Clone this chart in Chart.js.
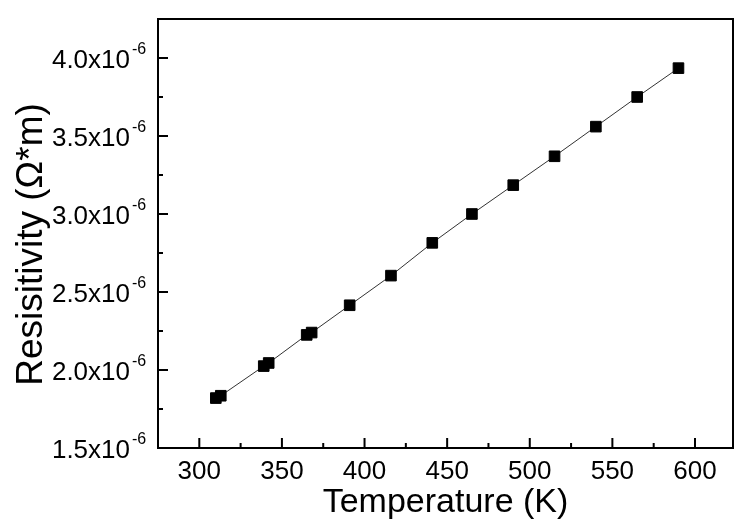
<!DOCTYPE html>
<html>
<head>
<meta charset="utf-8">
<script src="https://cdn.jsdelivr.net/npm/chart.js@4.4.1/dist/chart.umd.min.js"></script>
<style>
  html, body { margin: 0; padding: 0; background: #ffffff; }
  #wrap { width: 737px; height: 520px; }
</style>
</head>
<body>
<div id="wrap"><canvas id="c" width="737" height="520"></canvas></div>
<script>
// ---- data ----
const temperatures = [310, 313, 339, 342, 365, 368, 391, 416, 441, 465, 490, 515, 540, 565, 590];
const resistivity = [1.820e-6, 1.835e-6, 2.025e-6, 2.045e-6, 2.225e-6, 2.240e-6, 2.415e-6, 2.605e-6,
                     2.815e-6, 3.000e-6, 3.185e-6, 3.370e-6, 3.560e-6, 3.750e-6, 3.935e-6];
const xTickValues = [300, 350, 400, 450, 500, 550, 600];
const yTickValues = [1.5e-6, 2.0e-6, 2.5e-6, 3.0e-6, 3.5e-6, 4.0e-6];
const yTickMantissa = ['1.5', '2.0', '2.5', '3.0', '3.5', '4.0'];
const yTickExponent = '-6';
const xTitle = 'Temperature (K)';
const yTitle = 'Resisitivity (\u03A9*m)';

const FONT = 'Arial, "Liberation Sans", sans-serif';

const points = temperatures.map((t, i) => ({ x: t, y: resistivity[i] }));

function midpoints(arr) {
  const out = [];
  for (let i = 0; i < arr.length - 1; i++) out.push((arr[i] + arr[i + 1]) / 2);
  return out;
}

const framePlugin = {
  id: 'frame',
  beforeDraw(chart) {
    const ctx = chart.ctx;
    ctx.save();
    ctx.fillStyle = '#ffffff';
    ctx.fillRect(0, 0, chart.width, chart.height);
    ctx.restore();
  },
  afterDraw(chart) {
    const ctx = chart.ctx;
    const a = chart.chartArea;
    const xs = chart.scales.x, ys = chart.scales.y;
    ctx.save();
    ctx.strokeStyle = '#000000';
    ctx.lineWidth = 2;
    ctx.strokeRect(a.left, a.top, a.right - a.left, a.bottom - a.top);
    // inward ticks
    ctx.beginPath();
    xTickValues.forEach(v => {
      const px = xs.getPixelForValue(v);
      ctx.moveTo(px, a.bottom); ctx.lineTo(px, a.bottom - 10);
    });
    midpoints(xTickValues).forEach(v => {
      const px = xs.getPixelForValue(v);
      ctx.moveTo(px, a.bottom); ctx.lineTo(px, a.bottom - 5);
    });
    yTickValues.forEach(v => {
      const py = ys.getPixelForValue(v);
      ctx.moveTo(a.left, py); ctx.lineTo(a.left + 10, py);
    });
    midpoints(yTickValues).forEach(v => {
      const py = ys.getPixelForValue(v);
      ctx.moveTo(a.left, py); ctx.lineTo(a.left + 5, py);
    });
    ctx.stroke();
    // y tick labels with superscript exponent
    ctx.fillStyle = '#000000';
    yTickValues.forEach((v, i) => {
      const py = ys.getPixelForValue(v);
      ctx.font = '26px ' + FONT;
      ctx.textAlign = 'right';
      ctx.textBaseline = 'alphabetic';
      ctx.fillText(yTickMantissa[i] + 'x10', a.left - 28, py + 9.5);
      ctx.font = '16px ' + FONT;
      ctx.textAlign = 'left';
      ctx.fillText(yTickExponent, a.left - 26, py - 4.5);
    });
    // y axis title (rotated)
    ctx.save();
    ctx.translate(42, (a.top + a.bottom) / 2 + 11);
    ctx.rotate(-Math.PI / 2);
    ctx.font = '37px ' + FONT;
    ctx.textAlign = 'center';
    ctx.textBaseline = 'alphabetic';
    ctx.fillText(yTitle, 0, 0);
    ctx.restore();
    ctx.restore();
  }
};

new Chart(document.getElementById('c'), {
  type: 'scatter',
  data: {
    datasets: [{
      data: points,
      showLine: true,
      borderColor: '#333333',
      borderWidth: 1,
      backgroundColor: '#000000',
      pointBackgroundColor: '#000000',
      pointBorderColor: '#000000',
      pointBorderWidth: 1,
      pointStyle: 'rect',
      pointRadius: 7.5,
      pointHoverRadius: 7.5,
      tension: 0
    }]
  },
  options: {
    responsive: false,
    animation: false,
    devicePixelRatio: 1,
    layout: { autoPadding: false, padding: { top: 19, right: 4, left: 0, bottom: 0 } },
    plugins: { legend: { display: false }, tooltip: { enabled: false } },
    scales: {
      x: {
        type: 'linear',
        min: 275,
        max: 623,
        grid: { display: false, drawTicks: false },
        border: { display: false },
        afterBuildTicks(scale) { scale.ticks = xTickValues.map(v => ({ value: v })); },
        ticks: {
          color: '#000000',
          font: { family: FONT, size: 26 },
          padding: 8,
          maxRotation: 0,
          autoSkip: false
        },
        title: {
          display: true,
          text: xTitle,
          color: '#000000',
          font: { family: FONT, size: 34, lineHeight: 1 },
          padding: { top: 0, bottom: 0 }
        },
        afterFit(scale) { scale.height = 72; }
      },
      y: {
        type: 'linear',
        min: 1.5e-6,
        max: 4.25e-6,
        grid: { display: false, drawTicks: false },
        border: { display: false },
        afterBuildTicks(scale) { scale.ticks = yTickValues.map(v => ({ value: v })); },
        ticks: { display: false },
        title: { display: false },
        afterFit(scale) { scale.width = 158; }
      }
    }
  },
  plugins: [framePlugin]
});
</script>
</body>
</html>
